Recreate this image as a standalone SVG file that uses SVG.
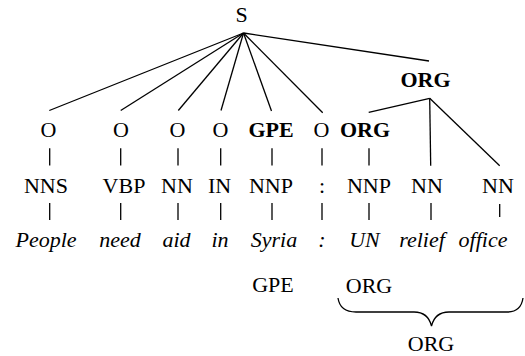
<svg xmlns="http://www.w3.org/2000/svg" width="525" height="356" viewBox="0 0 525 356">
<style>
text{font-family:'Liberation Serif','Times New Roman',serif;font-size:22px;fill:#000;text-anchor:middle}
.b{font-weight:bold}
.i{font-style:italic}
.e line,.e path{stroke:#000;stroke-width:1.3;fill:none}
</style>
<rect width="525" height="356" fill="#fff"/>
<g id="connectors" class="e">
<line x1="243.5" y1="33" x2="49.3" y2="110.5"/>
<line x1="243.5" y1="33" x2="120.7" y2="110.5"/>
<line x1="243.5" y1="33" x2="178.3" y2="110.5"/>
<line x1="243.5" y1="33" x2="221" y2="110.5"/>
<line x1="243.5" y1="33" x2="271.5" y2="111"/>
<line x1="243.5" y1="33" x2="322.7" y2="112.7"/>
<line x1="243.5" y1="33" x2="429" y2="61"/>
<line x1="429.7" y1="98.3" x2="368.7" y2="112.3"/>
<line x1="429.7" y1="98.3" x2="430.7" y2="165.7"/>
<line x1="429.7" y1="98.3" x2="499.7" y2="165.7"/>
<line x1="49.7" y1="148.3" x2="49.7" y2="165.5"/>
<line x1="120.7" y1="148.3" x2="120.7" y2="165.5"/>
<line x1="178" y1="148.3" x2="178" y2="165.5"/>
<line x1="220.7" y1="148.3" x2="220.7" y2="165.5"/>
<line x1="272" y1="148.3" x2="272" y2="165.5"/>
<line x1="322" y1="148.3" x2="322" y2="165.5"/>
<line x1="369" y1="148.3" x2="369" y2="165.5"/>
<line x1="49.7" y1="203" x2="49.7" y2="220"/>
<line x1="120.7" y1="203" x2="120.7" y2="220"/>
<line x1="178" y1="203" x2="178" y2="220"/>
<line x1="220.7" y1="203" x2="220.7" y2="220"/>
<line x1="272" y1="203" x2="272" y2="220"/>
<line x1="322" y1="203" x2="322" y2="220"/>
<line x1="369" y1="203" x2="369" y2="220"/>
<line x1="431" y1="203" x2="431" y2="220"/>
<line x1="499.7" y1="204" x2="499.7" y2="217"/>
<path d="M338,298 Q340,312 356,312 L414,312 Q428,312 431.5,326 Q435,312 449,312 L507,312 Q521,312 523,298"/>
</g>
<g id="n-S"><text x="241.5" y="22">S</text></g>
<g id="n-ORG-top"><text class="b" x="425.5" y="87">ORG</text></g>
<g id="n-O1"><text x="48.5" y="136.7">O</text></g>
<g id="n-O2"><text x="121" y="136.7">O</text></g>
<g id="n-O3"><text x="177.5" y="136.7">O</text></g>
<g id="n-O4"><text x="220.5" y="136.7">O</text></g>
<g id="n-GPE"><text class="b" x="271" y="136.7">GPE</text></g>
<g id="n-O5"><text x="321.5" y="136.7">O</text></g>
<g id="n-ORG"><text class="b" x="365" y="136.7">ORG</text></g>
<g id="p-NNS"><text x="46" y="192.5">NNS</text></g>
<g id="p-VBP"><text x="124" y="192.5">VBP</text></g>
<g id="p-NN1"><text x="177" y="192.5">NN</text></g>
<g id="p-IN"><text x="219.5" y="192.5">IN</text></g>
<g id="p-NNP1"><text x="271" y="192.5">NNP</text></g>
<g id="p-colon"><text x="322" y="192.5">:</text></g>
<g id="p-NNP2"><text x="369" y="192.5">NNP</text></g>
<g id="p-NN2"><text x="427" y="192.5">NN</text></g>
<g id="p-NN3"><text x="498" y="192.5">NN</text></g>
<g id="w-People"><text class="i" x="46" y="246.5">People</text></g>
<g id="w-need"><text class="i" x="120" y="246.5">need</text></g>
<g id="w-aid"><text class="i" x="176.5" y="246.5">aid</text></g>
<g id="w-in"><text class="i" x="220" y="246.5">in</text></g>
<g id="w-Syria"><text class="i" x="274" y="246.5">Syria</text></g>
<g id="w-colon"><text class="i" x="322" y="246.5">:</text></g>
<g id="w-UN"><text class="i" x="364.5" y="246.5">UN</text></g>
<g id="w-relief"><text class="i" x="422" y="246.5">relief</text></g>
<g id="w-office"><text class="i" x="483" y="246.5">office</text></g>
<g id="l-GPE"><text x="273" y="291.5">GPE</text></g>
<g id="l-ORG1"><text x="369" y="293">ORG</text></g>
<g id="l-ORG2"><text x="431" y="351">ORG</text></g>
</svg>
